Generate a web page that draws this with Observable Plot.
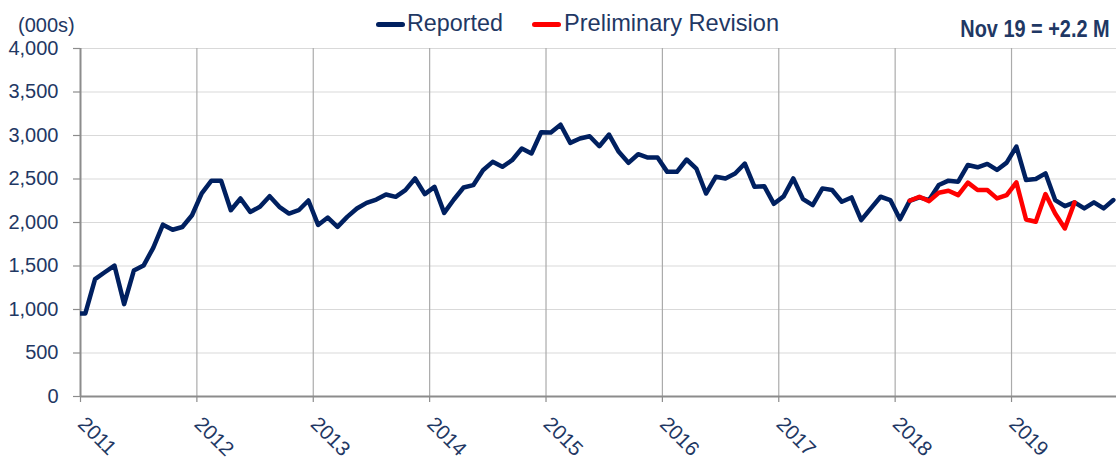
<!DOCTYPE html>
<html>
<head>
<meta charset="utf-8">
<script src="https://cdn.jsdelivr.net/npm/d3@7"></script>
<script src="https://cdn.jsdelivr.net/npm/@observablehq/plot@0.6"></script>
<style>
  html, body { margin: 0; padding: 0; background: #fff; }
  body { width: 1116px; height: 460px; overflow: hidden; font-family: "Liberation Sans", Arial, sans-serif; }
  #head { position: relative; height: 30px; width: 1116px; }
  #head span { position: absolute; white-space: nowrap; line-height: 1; color: #1f3864; }
  .sw { position: absolute; height: 5px; border-radius: 2.5px; }
  #chart { display: block; }
  #chart svg { overflow: visible; }
</style>
</head>
<body>
<div id="head">
  <span style="left:18px; top:15px; font-size:20px;">(000s)</span>
  <div class="sw" style="left:376px; top:22px; width:29px; background:#002060;"></div>
  <span style="left:407px; top:12px; font-size:23.3px;">Reported</span>
  <div class="sw" style="left:532px; top:22px; width:29px; background:#ff0000;"></div>
  <span style="left:564px; top:12px; font-size:23.6px;">Preliminary Revision</span>
  <span id="note" style="right:6px; top:18px; font-size:23px; font-weight:bold; transform:scaleX(0.865); transform-origin:right center;">Nov 19 = +2.2 M</span>
</div>
<div id="chart"></div>
<script>
// Monthly series, first value = Dec 2010, last = Nov 2019 (thousands)
const reportedStart = [2010, 11]; // year, month index (0 = Jan)
const reported = [
  955,
  955, 1350, 1428, 1505, 1062, 1447, 1505, 1709, 1975, 1917, 1948, 2083,
  2334, 2480, 2480, 2141, 2276, 2122, 2180, 2303, 2180, 2103, 2141, 2253,
  1972, 2057, 1950, 2065, 2161, 2226, 2264, 2322, 2295, 2372, 2506, 2326,
  2410, 2111, 2264, 2402, 2429, 2601, 2697, 2640, 2716, 2850, 2793, 3038,
  3034, 3124, 2915, 2965, 2992, 2877, 3011, 2812, 2686, 2785, 2747, 2747,
  2582, 2582, 2724, 2620, 2333, 2525, 2506, 2563, 2678, 2410, 2418, 2215,
  2300, 2507, 2269, 2200, 2392, 2373, 2238, 2288, 2027, 2162, 2296, 2258,
  2038, 2250, 2288, 2258, 2431, 2481, 2469, 2661, 2635, 2673, 2604, 2688,
  2873, 2488, 2500, 2565, 2258, 2188, 2231, 2162, 2231, 2162, 2258
];
// Preliminary revision, Feb 2018 .. Jul 2019
const revisionStart = [2018, 1];
const revision = [
  2250, 2296, 2246, 2342, 2365, 2315, 2458, 2373, 2373, 2277, 2315,
  2462, 2035, 2008, 2327, 2104, 1931, 2231
];
const yearTicks = [2011, 2012, 2013, 2014, 2015, 2016, 2017, 2018, 2019];
const yTicks = [0, 500, 1000, 1500, 2000, 2500, 3000, 3500, 4000];

const toSeries = (start, vals) => vals.map((v, i) => {
  const m = start[1] + i;
  return {x: start[0] + Math.floor(m / 12) + ((m % 12) + 0.5) / 12, y: v};
});
const rep = toSeries(reportedStart, reported);
const rev = toSeries(revisionStart, revision);

const navy = "#1f3864";
const axisGray = "#8c8c8c";

const plot = Plot.plot({
  width: 1116,
  height: 430,
  marginTop: 18,
  marginBottom: 64,
  marginLeft: 80,
  marginRight: 0,
  style: {fontFamily: "'Liberation Sans', Arial, sans-serif", background: "#fff", overflow: "visible"},
  x: {type: "linear", domain: [2011, 2019.902], label: null},
  y: {domain: [0, 4000], label: null},
  marks: [
    Plot.ruleY(yTicks.filter(d => d > 0), {stroke: "#d9d9d9", strokeWidth: 1.2}),
    Plot.ruleX(yearTicks.filter(d => d > 2011), {y1: 0, y2: 4000, stroke: "#ababab", strokeWidth: 1.2}),
    Plot.axisY({ticks: yTicks, tickSize: 7, text: null, stroke: axisGray, strokeWidth: 1.2, label: null}),
    Plot.axisY({ticks: yTicks, tickSize: 0, tickPadding: 22, tickFormat: d3.format(","), fill: navy, fontSize: 20, label: null}),
    Plot.axisX({ticks: yearTicks, tickSize: 6, text: null, stroke: axisGray, strokeWidth: 1.2, label: null}),
    Plot.text(yearTicks, {x: d => d, y: 0, text: d => String(d), rotate: 45, textAnchor: "start", lineAnchor: "middle", dx: 1, dy: 24, fill: navy, fontSize: 20.5}),
    Plot.ruleX([2011], {y1: 0, y2: 4000, stroke: axisGray, strokeWidth: 2}),
    Plot.ruleY([0], {stroke: axisGray, strokeWidth: 2}),
    Plot.line(rep, {x: "x", y: "y", stroke: "#002060", strokeWidth: 4.5, strokeLinejoin: "round", strokeLinecap: "round", clip: true}),
    Plot.line(rev, {x: "x", y: "y", stroke: "#ff0000", strokeWidth: 4.5, strokeLinejoin: "round", strokeLinecap: "round", clip: true})
  ]
});
document.getElementById("chart").appendChild(plot);
</script>
</body>
</html>
